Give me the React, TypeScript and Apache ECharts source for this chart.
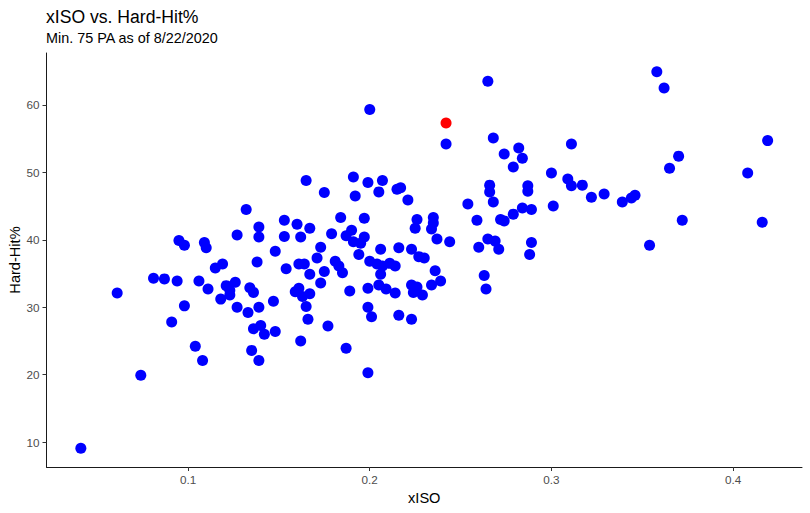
import React, { useEffect, useRef } from "react";
import * as echarts from "echarts";

// xISO values (x) and Hard-Hit% values (y)
const xiso = [
  0.041, 0.061, 0.081, 0.087, 0.094, 0.095, 0.098, 0.109, 0.110, 0.127,
  0.115, 0.119, 0.106, 0.111, 0.121, 0.123, 0.126, 0.118, 0.127, 0.098,
  0.091, 0.104, 0.108, 0.074, 0.123, 0.132, 0.153, 0.139, 0.139, 0.153,
  0.148, 0.138, 0.154, 0.134, 0.136, 0.133, 0.139, 0.147, 0.136, 0.140,
  0.142, 0.148, 0.135, 0.139, 0.159, 0.161, 0.163, 0.167, 0.165, 0.173,
  0.166, 0.177, 0.162, 0.189, 0.187, 0.199, 0.199, 0.201, 0.199, 0.205,
  0.209, 0.214, 0.216, 0.223, 0.223, 0.224, 0.226, 0.229, 0.234, 0.165,
  0.175, 0.191, 0.199, 0.207, 0.205, 0.192, 0.215, 0.217, 0.221, 0.160,
  0.167, 0.162, 0.184, 0.197, 0.179, 0.190, 0.187, 0.191, 0.195, 0.197,
  0.194, 0.173, 0.171, 0.161, 0.164, 0.167, 0.175, 0.181, 0.183, 0.185,
  0.206, 0.200, 0.204, 0.207, 0.211, 0.214, 0.206, 0.216, 0.223, 0.227,
  0.230, 0.226, 0.225, 0.235, 0.235, 0.234, 0.237, 0.244, 0.236, 0.239,
  0.200, 0.265, 0.242, 0.268, 0.274, 0.282, 0.284, 0.279, 0.311, 0.300,
  0.309, 0.311, 0.317, 0.322, 0.329, 0.339, 0.266, 0.266, 0.287, 0.287,
  0.254, 0.268, 0.301, 0.259, 0.272, 0.274, 0.279, 0.284, 0.289, 0.260,
  0.265, 0.269, 0.271, 0.289, 0.288, 0.263, 0.264, 0.358, 0.362, 0.419,
  0.370, 0.365, 0.408, 0.344, 0.346, 0.372, 0.416, 0.354,
];
const hardHit = [
  9.1, 32.1, 34.3, 34.2, 33.9, 39.9, 39.2, 39.6, 38.8, 40.7,
  35.8, 36.4, 33.9, 32.7, 33.2, 31.8, 33.7, 31.2, 30.0, 30.2,
  27.8, 24.2, 22.1, 19.9, 32.5, 44.5, 42.9, 41.9, 40.4, 40.5,
  38.3, 36.7, 35.7, 32.9, 32.2, 29.2, 30.0, 30.9, 26.8, 27.3,
  26.0, 26.4, 23.6, 22.1, 32.3, 32.8, 31.6, 32.0, 30.1, 33.6,
  28.2, 27.2, 25.0, 32.4, 23.9, 32.8, 30.0, 28.6, 20.3, 33.3,
  32.7, 32.1, 28.8, 28.2, 33.3, 32.2, 33.0, 31.8, 33.3, 48.8,
  47.0, 49.3, 48.5, 48.8, 47.1, 46.5, 47.5, 47.7, 45.9, 42.3,
  41.7, 40.4, 43.3, 43.2, 40.9, 41.4, 40.6, 39.7, 39.5, 40.4,
  37.8, 38.9, 37.3, 36.4, 36.4, 34.9, 35.3, 36.8, 36.1, 35.1,
  38.6, 36.8, 36.4, 36.1, 36.5, 36.1, 34.9, 38.8, 38.6, 37.5,
  37.3, 43.0, 41.7, 43.3, 42.5, 41.6, 40.1, 39.7, 35.4, 33.9,
  59.3, 63.5, 54.2, 55.1, 52.7, 53.6, 52.1, 50.8, 54.2, 49.9,
  49.0, 48.0, 48.1, 46.3, 46.8, 45.6, 48.1, 47.1, 48.0, 47.2,
  45.3, 45.6, 45.0, 42.9, 43.0, 42.8, 43.8, 44.7, 44.5, 38.9,
  40.1, 39.8, 38.6, 39.6, 37.8, 34.7, 32.7, 64.9, 62.5, 54.7,
  52.4, 50.6, 49.9, 46.2, 46.6, 42.9, 42.6, 39.2,
];

// highlighted player (red)
const highlightX = [0.242];
const highlightY = [57.3];

// tick labels
const xTicks = [0.1, 0.2, 0.3, 0.4];
const yTicks = [10, 20, 30, 40, 50, 60];

const titleText = "xISO vs. Hard-Hit%";
const subtitleText = "Min. 75 PA as of 8/22/2020";
const xName = "xISO";
const yName = "Hard-Hit%";

const FONT = "'Liberation Sans', Arial, Helvetica, sans-serif";

function expandRange(vals: number[]) {
  const lo = Math.min(...vals);
  const hi = Math.max(...vals);
  const pad = (hi - lo) * 0.05;
  return [lo - pad, hi + pad];
}

export default function App() {
  const ref = useRef<HTMLDivElement>(null);

  useEffect(() => {
    document.body.style.margin = "0";
    if (!ref.current) return;
    const chart = echarts.init(ref.current, undefined, { renderer: "svg" });

    const allX = xiso.concat(highlightX);
    const allY = hardHit.concat(highlightY);
    const [xMin, xMax] = expandRange(allX);
    const [yMin, yMax] = expandRange(allY);

    const gridLeft = 46.5;
    const gridRight = 8;
    const gridTop = 53;
    const gridBottom = 46;
    const W = 810;
    const H = 513;
    const plotCx = gridLeft + (W - gridLeft - gridRight) / 2;
    const plotCy = gridTop + (H - gridTop - gridBottom) / 2;

    const axisLabelStyle = {
      color: "#4d4d4d",
      fontSize: 11.7,
      fontFamily: FONT,
    };

    chart.setOption({
      animation: false,
      backgroundColor: "#ffffff",
      grid: {
        left: gridLeft,
        right: gridRight,
        top: gridTop,
        bottom: gridBottom,
        containLabel: false,
        outerBoundsMode: "none",
      },
      xAxis: {
        type: "value",
        min: xMin,
        max: xMax,
        splitLine: { show: false },
        axisLine: { show: true, onZero: false, lineStyle: { color: "#1a1a1a", width: 1 } },
        axisTick: {
          show: true,
          length: 4,
          customValues: xTicks,
          lineStyle: { color: "#333333", width: 1 },
        },
        axisLabel: {
          ...axisLabelStyle,
          margin: 6,
          customValues: xTicks,
          formatter: (v: number) => String(v),
        },
      },
      yAxis: {
        type: "value",
        min: yMin,
        max: yMax,
        splitLine: { show: false },
        axisLine: { show: true, onZero: false, lineStyle: { color: "#1a1a1a", width: 1 } },
        axisTick: {
          show: true,
          length: 4,
          customValues: yTicks,
          lineStyle: { color: "#333333", width: 1 },
        },
        axisLabel: {
          ...axisLabelStyle,
          margin: 7,
          customValues: yTicks,
          formatter: (v: number) => String(v),
        },
      },
      graphic: [
        {
          type: "text",
          x: 46,
          y: 16.8,
          style: {
            text: titleText,
            fill: "#000000",
            fontSize: 17.6,
            fontFamily: FONT,
            align: "left",
            verticalAlign: "middle",
          },
        },
        {
          type: "text",
          x: 46,
          y: 38.4,
          style: {
            text: subtitleText,
            fill: "#000000",
            fontSize: 14.4,
            fontFamily: FONT,
            align: "left",
            verticalAlign: "middle",
          },
        },
        {
          type: "text",
          x: plotCx,
          y: 498,
          style: {
            text: xName,
            fill: "#000000",
            fontSize: 14.6,
            fontFamily: FONT,
            align: "center",
            verticalAlign: "middle",
          },
        },
        {
          type: "text",
          x: 15.4,
          y: plotCy,
          rotation: Math.PI / 2,
          style: {
            text: yName,
            fill: "#000000",
            fontSize: 14.6,
            fontFamily: FONT,
            align: "center",
            verticalAlign: "middle",
          },
        },
      ],
      series: [
        {
          type: "scatter",
          symbol: "circle",
          symbolSize: 11,
          itemStyle: { color: "#0000ff", opacity: 1 },
          data: xiso.map((x, i) => [x, hardHit[i]]),
          silent: true,
        },
        {
          type: "scatter",
          symbol: "circle",
          symbolSize: 11,
          itemStyle: { color: "#ff0000", opacity: 1 },
          data: highlightX.map((x, i) => [x, highlightY[i]]),
          silent: true,
          z: 3,
        },
      ],
    });

    return () => {
      chart.dispose();
    };
  }, []);

  return (
    <div
      ref={ref}
      style={{ position: "absolute", left: 0, top: 0, width: 810, height: 513 }}
    />
  );
}
